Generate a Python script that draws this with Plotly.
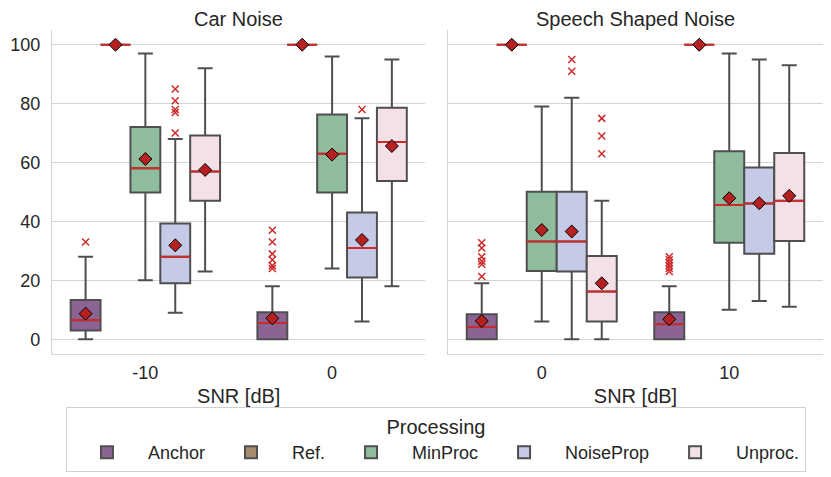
import plotly.graph_objects as go

# ---------------- data ----------------
panels = ["Car Noise", "Speech Shaped Noise"]
snr_car = ["-10", "0"]
snr_ssn = ["0", "10"]
hues = ["Anchor", "Ref.", "MinProc", "NoiseProp", "Unproc."]
colors = ["#8b6494", "#a58a6e", "#8fbc9d", "#c5cae6", "#f3e1e7"]

# per hue: [value at first SNR, value at second SNR]
car_lf = [[0, 0], [100, 100], [20, 24], [9, 6], [23, 18]]
car_q1 = [[3, 0], [100, 100], [49.8, 49.8], [19, 21], [47, 53.7]]
car_med = [[6.5, 5.5], [100, 100], [58.1, 63], [28, 31], [57, 67]]
car_q3 = [[13.3, 9.2], [100, 100], [72.1, 76.3], [39.3, 43], [69.2, 78.6]]
car_uf = [[28, 18], [100, 100], [97, 96], [68, 75], [92, 95]]
car_mean = [[8.7, 7.1], [100, 100], [61.2, 62.7], [31.9, 33.7], [57.5, 65.6]]
car_out = [[[33], [37, 33, 29, 27, 25, 24]], [[], []], [[], []],
           [[85, 81, 78, 77, 70], [78]], [[], []]]

ssn_lf = [[0, 0], [100, 100], [6, 10], [0, 13], [0, 11]]
ssn_q1 = [[0, 0], [100, 100], [23.2, 32.8], [23, 29], [6, 33.4]]
ssn_med = [[4.2, 5.1], [100, 100], [33.2, 45.6], [33.2, 46.1], [16.2, 47]]
ssn_q3 = [[8.5, 9.2], [100, 100], [50.1, 63.8], [50.1, 58.3], [28.3, 63.2]]
ssn_uf = [[19, 18], [100, 100], [79, 97], [82, 95], [47, 93]]
ssn_mean = [[6.2, 6.8], [100, 100], [37.1, 47.9], [36.6, 46.2], [19, 48.7]]
ssn_out = [[[32.8, 31, 28, 26.5, 25.5, 21.3], [28, 27, 26, 25, 24, 23]],
           [[], []], [[], []], [[95, 91], []], [[75, 69, 63], []]]

y_ticks = [0, 20, 40, 60, 80, 100]

# ---------------- style ----------------
FONT = "Liberation Sans, Arial, sans-serif"
TXT = "#262626"
EDGE = "#4f4f4f"
MED = "#cf2a2a"
MEANC = "#b52121"
GRID = "#d4d4d4"
BW = 0.16
offsets = [-0.32, -0.16, 0.0, 0.16, 0.32]

fig = go.Figure()

sets = [
    ("x", "y", snr_car, car_lf, car_q1, car_med, car_q3, car_uf, car_mean, car_out),
    ("x2", "y2", snr_ssn, ssn_lf, ssn_q1, ssn_med, ssn_q3, ssn_uf, ssn_mean, ssn_out),
]

for pi, (xa, ya, cats, lf, q1, med, q3, uf, mn, out) in enumerate(sets):
    med_x, med_y = [], []
    mean_x, mean_y = [], []
    out_x, out_y = [], []
    for hi, h in enumerate(hues):
        pos = [ci + offsets[hi] for ci in range(len(cats))]
        fig.add_trace(go.Box(
            x=pos, q1=q1[hi], median=med[hi], q3=q3[hi],
            lowerfence=lf[hi], upperfence=uf[hi],
            width=BW, whiskerwidth=0.5,
            fillcolor=colors[hi], line=dict(color=EDGE, width=2),
            name=h, legendgroup=h, showlegend=(pi == 0),
            xaxis=xa, yaxis=ya, boxpoints=False, hoverinfo="skip",
        ))
        for ci in range(len(cats)):
            p = pos[ci]
            med_x += [p - BW / 2, p + BW / 2, None]
            med_y += [med[hi][ci], med[hi][ci], None]
            mean_x.append(p)
            mean_y.append(mn[hi][ci])
            for v in out[hi][ci]:
                out_x.append(p)
                out_y.append(v)
    fig.add_trace(go.Scatter(x=med_x, y=med_y, mode="lines",
                             line=dict(color=MED, width=2),
                             showlegend=False, hoverinfo="skip",
                             xaxis=xa, yaxis=ya))
    fig.add_trace(go.Scatter(x=out_x, y=out_y, mode="markers",
                             marker=dict(symbol="x-thin", size=7,
                                         line=dict(color=MED, width=1.5)),
                             showlegend=False, hoverinfo="skip",
                             xaxis=xa, yaxis=ya))
    fig.add_trace(go.Scatter(x=mean_x, y=mean_y, mode="markers",
                             marker=dict(symbol="diamond", size=10, color=MEANC,
                                         line=dict(color="black", width=1)),
                             showlegend=False, hoverinfo="skip",
                             xaxis=xa, yaxis=ya))

xcommon = dict(range=[-0.5, 1.5], showgrid=False, zeroline=False,
               showline=True, linecolor=GRID, linewidth=1.3,
               ticks="", tickvals=[0, 1],
               tickfont=dict(size=18, color=TXT, family=FONT),
               ticklabelstandoff=2, automargin=False,
               title=dict(text="SNR [dB]", font=dict(size=20, color=TXT, family=FONT),
                          standoff=10))
ycommon = dict(range=[-5, 105], tickvals=y_ticks, showgrid=True, gridcolor=GRID,
               gridwidth=1.2, zeroline=False, showline=True, linecolor=GRID,
               linewidth=1.3, ticks="", automargin=False,
               tickfont=dict(size=18, color=TXT, family=FONT))

fig.update_layout(
    width=831, height=477,
    margin=dict(l=44, r=16, t=22, b=131),
    paper_bgcolor="white", plot_bgcolor="white",
    font=dict(family=FONT, color=TXT),
    xaxis=dict(xcommon, domain=[0, 0.4844], anchor="y", ticktext=snr_car),
    xaxis2=dict(xcommon, domain=[0.5136, 1], anchor="y2", ticktext=snr_ssn),
    yaxis=dict(ycommon, anchor="x", ticklabelstandoff=7),
    yaxis2=dict(ycommon, anchor="x2", matches="y", showticklabels=False),
    legend=dict(
        orientation="h", xref="container", yref="container",
        x=0.515, y=0.1635, xanchor="center", yanchor="top",
        title=dict(text="Processing", side="top center",
                   font=dict(size=20, color=TXT, family=FONT)),
        font=dict(size=18, color=TXT, family=FONT),
        bordercolor="#d0d0d0", borderwidth=1, bgcolor="white",
        itemwidth=72,
    ),
    showlegend=True,
)

for i, t in enumerate(panels):
    fig.add_annotation(text=t, x=0.5, y=1, xref=("x" if i == 0 else "x2") + " domain",
                       yref="y domain", xanchor="center", yanchor="bottom",
                       yshift=-1, borderpad=0, showarrow=False,
                       font=dict(size=20, color=TXT, family=FONT))

fig.write_html("out.html")
